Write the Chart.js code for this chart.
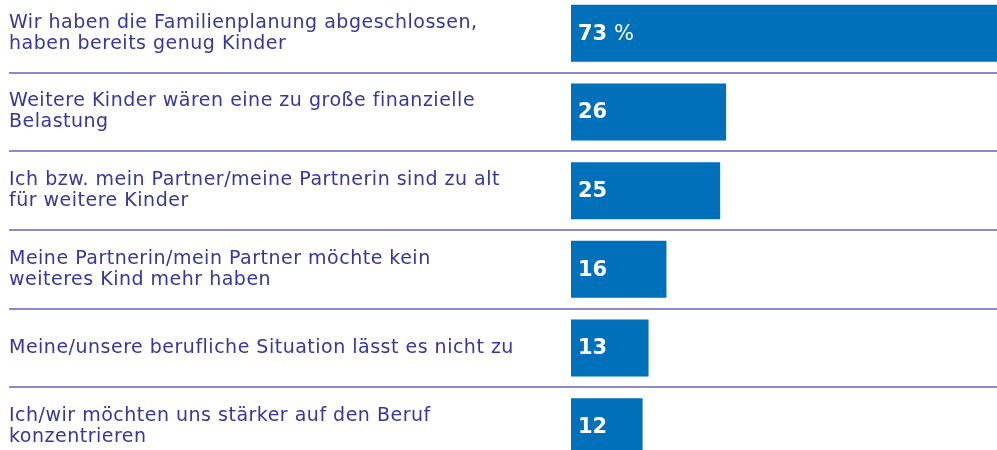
<!DOCTYPE html>
<html>
<head>
<meta charset="utf-8">
<script src="https://cdn.jsdelivr.net/npm/chart.js@4.4.0/dist/chart.umd.min.js"></script>
<style>
  html, body { margin:0; padding:0; background:#fff; overflow:hidden; }
  body { width:997px; height:450px; position:relative; }
  #wrap { position:absolute; left:0; top:-6px; width:997px; height:472px; }
</style>
</head>
<body>
<div id="wrap"><canvas id="chart"></canvas></div>
<script>
// Gründe gegen weitere Kinder (Angaben in %)
const reasons = [
    ["Wir haben die Familienplanung abgeschlossen,", "haben bereits genug Kinder"],
    ["Weitere Kinder wären eine zu große finanzielle", "Belastung"],
    ["Ich bzw. mein Partner/meine Partnerin sind zu alt", "für weitere Kinder"],
    ["Meine Partnerin/mein Partner möchte kein", "weiteres Kind mehr haben"],
    "Meine/unsere berufliche Situation lässt es nicht zu",
    ["Ich/wir möchten uns stärker auf den Beruf", "konzentrieren"]
];
const shares = [73, 26, 25, 16, 13, 12];
const unitSuffix = " %";

const labelFont = "'DejaVu Sans', sans-serif";
const blue = "#0070ba";
const textColor = "#36369f";
const lineColor = "#8c8ac8";

/* slightly wider label text */
const spacing = {
    id:"spacing",
    beforeDraw(chart){ chart.ctx.letterSpacing = "0.5px"; },
    afterDraw(chart){ chart.ctx.letterSpacing = "0px"; }
};

/* values written inside the bars */
const valueLabels = {
    id:"valueLabels",
    afterDatasetsDraw(chart){
        const ctx = chart.ctx;
        const meta = chart.getDatasetMeta(0);
        ctx.save();
        ctx.letterSpacing = "0px";
        ctx.fillStyle = "#fff";
        ctx.textBaseline = "middle";
        meta.data.forEach((bar,i)=>{
            const x = bar.base + 7;
            const y = bar.y + 1;
            ctx.font = "bold 21px " + labelFont;
            const txt = String(shares[i]);
            ctx.fillText(txt, x, y);
            if(i === 0){
                const w = ctx.measureText(txt).width;
                ctx.font = "21px " + labelFont;
                ctx.fillText(unitSuffix, x + w, y);
            }
        });
        ctx.restore();
    }
};

new Chart(document.getElementById("chart"),{
    type:"bar",
    data:{
        labels:reasons,
        datasets:[{
            data:shares,
            backgroundColor:blue,
            borderWidth:0,
            categoryPercentage:1,
            barPercentage:0.725
        }]
    },
    options:{
        indexAxis:"y",
        responsive:true,
        maintainAspectRatio:false,
        animation:false,
        events:[],
        layout:{ padding:{ left:9, right:0, top:0, bottom:0 } },
        plugins:{
            legend:{display:false},
            tooltip:{enabled:false}
        },
        scales:{
            x:{
                display:false,
                min:0,
                max:71.4
            },
            y:{
                afterFit(scale){
                    scale.width = 562;
                    scale.paddingTop = 0;
                    scale.paddingBottom = 0;
                },
                border:{display:false},
                grid:{
                    offset:true,
                    color:lineColor,
                    lineWidth:2,
                    drawTicks:true,
                    tickLength:562
                },
                ticks:{
                    crossAlign:"far",
                    color:textColor,
                    font:{ family:labelFont, size:19, lineHeight:1.1 }
                }
            }
        }
    },
    plugins:[spacing, valueLabels]
});
</script>
</body>
</html>
